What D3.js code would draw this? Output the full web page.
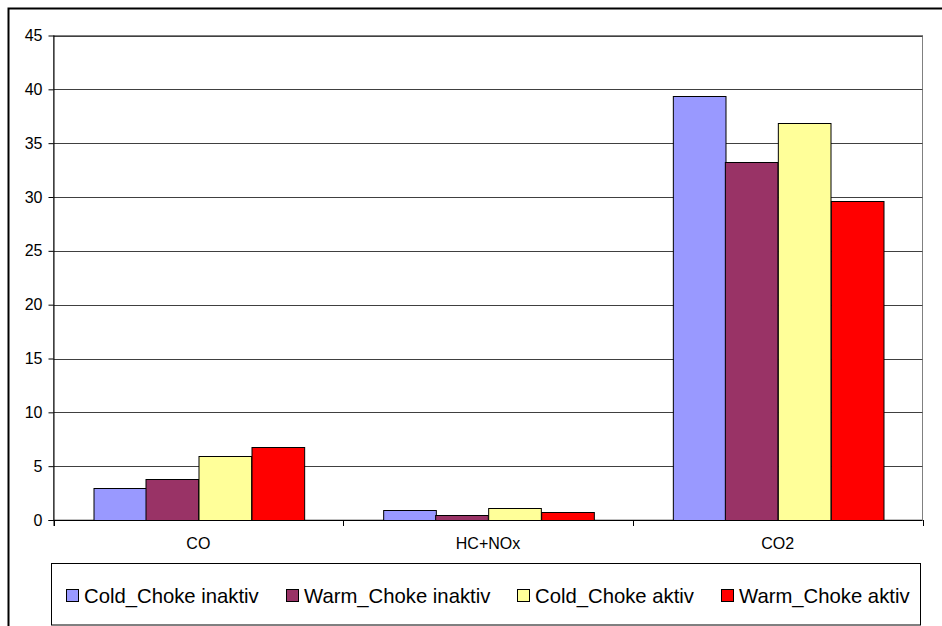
<!DOCTYPE html>
<html>
<head>
<meta charset="utf-8">
<script src="https://cdn.jsdelivr.net/npm/d3@7"></script>
<style>
  html, body { margin: 0; padding: 0; background: #fff; }
  svg { display: block; }
  text { font-family: "Liberation Sans", Arial, sans-serif; fill: #000; }
</style>
</head>
<body>
<svg id="chart" width="942" height="626"></svg>
<script>
const categories = ["CO", "HC+NOx", "CO2"];
const seriesNames = ["Cold_Choke inaktiv", "Warm_Choke inaktiv", "Cold_Choke aktiv", "Warm_Choke aktiv"];
const coldInaktiv = [3.0, 0.95, 39.4];
const warmInaktiv = [3.8, 0.5, 33.25];
const coldAktiv = [5.95, 1.1, 36.85];
const warmAktiv = [6.8, 0.75, 29.6];
const seriesColors = ["#9999FF", "#993366", "#FFFF99", "#FF0000"];
const yTicks = [0, 5, 10, 15, 20, 25, 30, 35, 40, 45];

const seriesValues = [coldInaktiv, warmInaktiv, coldAktiv, warmAktiv];

const svg = d3.select("#chart");
const W = 942, H = 626;

// outer chart border (extends beyond the viewport on right/bottom)
svg.append("rect")
  .attr("x", 8.5).attr("y", 8.5)
  .attr("width", W + 20).attr("height", H + 20)
  .attr("fill", "#fff").attr("stroke", "#000").attr("stroke-width", 2);

const plot = { left: 53.5, right: 922.5, top: 35.5, bottom: 520 };

const x0 = d3.scaleBand().domain(categories).range([plot.left, plot.right]).padding(0);
const bw = x0.bandwidth();
const gap = bw * 1.5 / 5.5; // Excel gap width 150%
const x1 = d3.scaleBand().domain(seriesNames).range([gap / 2, bw - gap / 2]).padding(0);
const y = d3.scaleLinear().domain([0, 45]).range([plot.bottom, plot.top]);

// plot area border
svg.append("rect")
  .attr("x", plot.left).attr("y", plot.top)
  .attr("width", plot.right - plot.left).attr("height", plot.bottom - plot.top)
  .attr("fill", "none").attr("stroke", "#808080").attr("stroke-width", 1);

// gridlines
svg.append("g").selectAll("line").data(yTicks.filter(d => d > 0)).join("line")
  .attr("x1", plot.left).attr("x2", plot.right)
  .attr("y1", d => Math.round(y(d)) + 0.5).attr("y2", d => Math.round(y(d)) + 0.5)
  .attr("stroke", "#404040").attr("stroke-width", 1);

// bars
const rows = categories.map((c, i) => ({ cat: c, vals: seriesNames.map((s, j) => ({ s, j, v: seriesValues[j][i] })) }));
const g = svg.append("g");
g.selectAll("g").data(rows).join("g")
  .attr("transform", d => `translate(${x0(d.cat)},0)`)
  .selectAll("rect").data(d => d.vals).join("rect")
  .attr("x", d => Math.round(x1(d.s)) + 0.5)
  .attr("y", d => Math.round(y(d.v)) + 0.5)
  .attr("width", x1.bandwidth())
  .attr("height", d => Math.round(y(0)) - Math.round(y(d.v)))
  .attr("fill", d => seriesColors[d.j])
  .attr("stroke", "#000").attr("stroke-width", 1);

// y axis
const yAxis = d3.axisLeft(y).tickValues(yTicks).tickSize(5).tickPadding(6).tickFormat(d3.format("d"));
const ya = svg.append("g").attr("transform", `translate(${plot.left},0)`).call(yAxis);
ya.select(".domain").attr("stroke", "#000").attr("d", `M0.5,${plot.top}V${plot.bottom + 6}`);
ya.selectAll(".tick line").attr("stroke", "#000");
ya.selectAll(".tick text").style("font-size", "16px").attr("font-family", null);

// x axis
svg.append("line")
  .attr("x1", plot.left - 5).attr("x2", plot.right)
  .attr("y1", Math.round(plot.bottom) + 0.5).attr("y2", Math.round(plot.bottom) + 0.5)
  .attr("stroke", "#000");
const boundaries = categories.map(c => x0(c)).concat([plot.right]);
svg.append("g").selectAll("line").data(boundaries).join("line")
  .attr("x1", d => Math.round(d) + 0.5).attr("x2", d => Math.round(d) + 0.5)
  .attr("y1", plot.bottom).attr("y2", plot.bottom + 6)
  .attr("stroke", "#000");
svg.append("g").selectAll("text").data(categories).join("text")
  .attr("x", d => x0(d) + bw / 2)
  .attr("y", plot.bottom + 29)
  .attr("text-anchor", "middle")
  .style("font-size", "16px")
  .text(d => d);

// legend
const lg = { left: 51.5, top: 563.5, right: 920.5, bottom: 625 };
svg.append("rect")
  .attr("x", lg.left).attr("y", lg.top)
  .attr("width", lg.right - lg.left).attr("height", lg.bottom - lg.top)
  .attr("fill", "#fff").attr("stroke", "#000").attr("stroke-width", 1);

const legendG = svg.append("g");
const items = legendG.selectAll("g").data(seriesNames).join("g");
items.append("rect")
  .attr("width", 12).attr("height", 12)
  .attr("x", 0.5).attr("y", -6.5)
  .attr("fill", (d, i) => seriesColors[i])
  .attr("stroke", "#000").attr("stroke-width", 1);
items.append("text")
  .attr("x", 18).attr("y", 7)
  .style("font-size", "20.3px")
  .text(d => d);
const spacing = 27;
const widths = [];
items.each(function () { widths.push(18 + d3.select(this).select("text").node().getComputedTextLength()); });
const total = d3.sum(widths) + spacing * (widths.length - 1);
let cx = (lg.left + lg.right) / 2 - total / 2 + 2;
const cy = 596;
items.attr("transform", (d, i) => {
  const t = `translate(${Math.round(cx + widths.slice(0, i).reduce((a, b) => a + b + spacing, 0))},${cy})`;
  return t;
});
</script>
</body>
</html>
